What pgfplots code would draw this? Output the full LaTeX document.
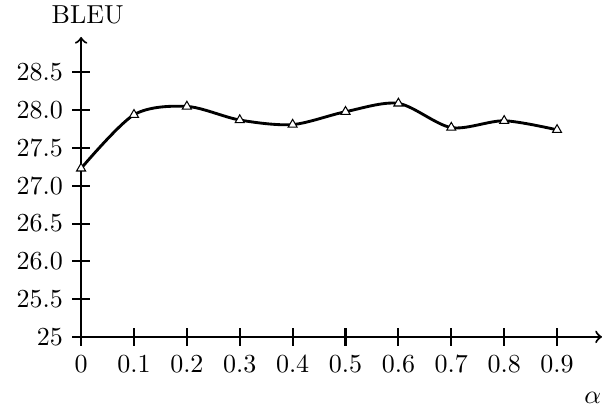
\documentclass[border=0pt]{standalone}
\usepackage{pgfplots}
\pgfplotsset{compat=1.18}
\begin{document}
\begin{tikzpicture}
\path[use as bounding box] (-31.2pt,-26.5pt) rectangle (200.4pt,129.6pt);
\begin{axis}[
  at={(0,0)}, anchor=origin,
  scale only axis, width=200.4pt, height=115.4pt,
  axis lines=left,
  axis line style={->, thick},
  xmin=0, xmax=0.985, ymin=25, ymax=28.97,
  xtick={0,0.1,0.2,0.3,0.4,0.5,0.6,0.7,0.8,0.9},
  xticklabels={0,0.1,0.2,0.3,0.4,0.5,0.6,0.7,0.8,0.9},
  ytick={25,25.5,26,26.5,27,27.5,28,28.5},
  yticklabels={25,25.5,26.0,26.5,27.0,27.5,28.0,28.5},
  tick align=center, major tick length=7pt,
  tick style={thick, black},
  xlabel={$\alpha$},
  xlabel style={at={(axis description cs:1,0)}, anchor=north east, xshift=3.2pt, yshift=-17.7pt},
  clip=false,
]
\addplot[smooth, line width=1.1pt, black, mark=triangle*, mark size=2pt,
  mark options={solid, fill=white, draw=black, line width=0.4pt}]
  coordinates {
  (0,27.23) (0.1,27.94) (0.2,28.05) (0.3,27.87) (0.4,27.81)
  (0.5,27.98) (0.6,28.09) (0.7,27.77) (0.8,27.86) (0.9,27.74)
  };
\node[anchor=south, xshift=2.5pt, yshift=1.3pt] at (axis description cs:0,1) {BLEU};
\end{axis}
\end{tikzpicture}
\end{document}
